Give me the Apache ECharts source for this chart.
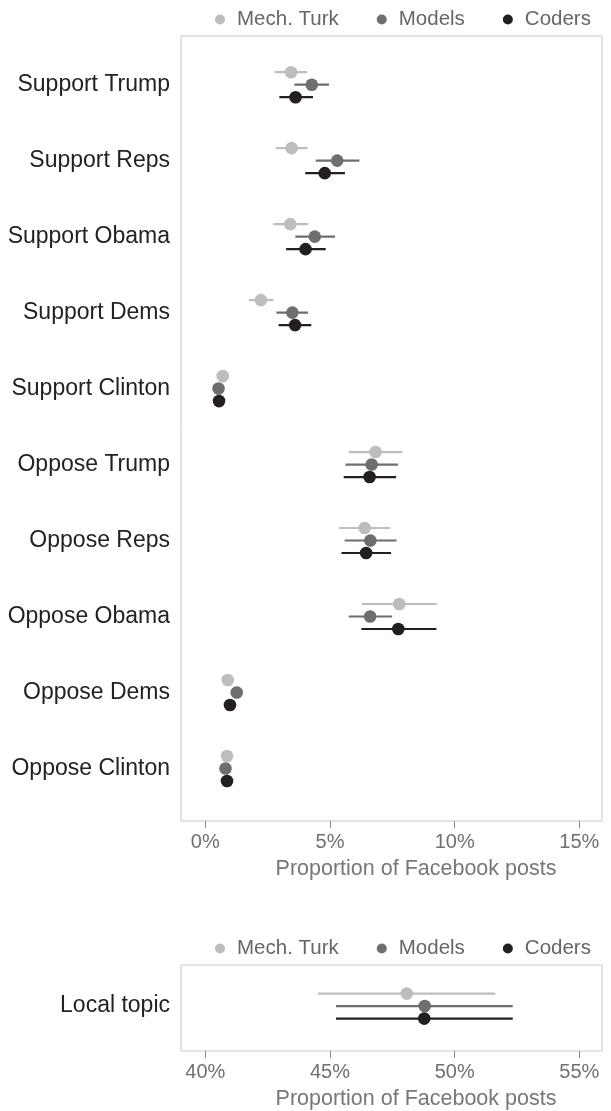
<!DOCTYPE html>
<html>
<head>
<meta charset="utf-8">
<script src="https://cdn.jsdelivr.net/npm/echarts@6/dist/echarts.min.js"></script>
<style>
  html, body { margin: 0; padding: 0; background: #fff; }
  #chart { width: 611px; height: 1111px; }
</style>
</head>
<body>
<div id="chart"></div>
<script>
// categories, top to bottom
const categories = ['Support Trump', 'Support Reps', 'Support Obama', 'Support Dems', 'Support Clinton',
  'Oppose Trump', 'Oppose Reps', 'Oppose Obama', 'Oppose Dems', 'Oppose Clinton']

// proportion of posts (%), estimate with interval
const turkEst = [3.44, 3.46, 3.41, 2.23, 0.70, 6.83, 6.39, 7.78, 0.90, 0.87]
const turkLo = [2.78, 2.82, 2.73, 1.75, 0.55, 5.75, 5.37, 6.28, 0.75, 0.72]
const turkHi = [4.08, 4.10, 4.12, 2.73, 0.85, 7.90, 7.41, 9.29, 1.05, 1.02]
const modelEst = [4.27, 5.29, 4.39, 3.49, 0.53, 6.67, 6.62, 6.61, 1.26, 0.81]
const modelLo = [3.57, 4.43, 3.61, 2.85, 0.40, 5.62, 5.59, 5.75, 1.10, 0.68]
const modelHi = [4.96, 6.18, 5.20, 4.12, 0.66, 7.73, 7.67, 7.49, 1.42, 0.94]
const coderEst = [3.62, 4.79, 4.02, 3.60, 0.55, 6.59, 6.45, 7.74, 0.99, 0.87]
const coderLo = [2.97, 4.01, 3.24, 2.94, 0.42, 5.55, 5.46, 6.26, 0.85, 0.74]
const coderHi = [4.32, 5.60, 4.83, 4.25, 0.68, 7.65, 7.45, 9.27, 1.13, 1.00]

// local topic panel
const localCategories = ['Local topic']
const localTurk = [48.08, 44.52, 51.63]   // est, lo, hi
const localModel = [48.80, 45.24, 52.33]
const localCoder = [48.78, 45.24, 52.33]

const topTicks = [0, 5, 10, 15]
const bottomTicks = [40, 45, 50, 55]

const groups = ['Mech. Turk', 'Models', 'Coders']
const colors = ['#bdbdbd', '#6e6e6e', '#231f20']
const offsets = [-12.5, 0, 12.5]

function rows(est, lo, hi) {
  return est.map((v, i) => [i, v, lo[i], hi[i]])
}

function makeRender(offset, color) {
  return function (params, api) {
    const row = api.value(0)
    const c = api.coord([api.value(1), row])
    const lo = api.coord([api.value(2), row])
    const hi = api.coord([api.value(3), row])
    const y = c[1] + offset
    return {
      type: 'group',
      children: [
        { type: 'line', shape: { x1: lo[0], y1: y, x2: hi[0], y2: y }, style: { stroke: color, lineWidth: 2.2 } },
        { type: 'circle', shape: { cx: c[0], cy: y, r: 6.3 }, style: { fill: color } }
      ]
    }
  }
}

const topData = [rows(turkEst, turkLo, turkHi), rows(modelEst, modelLo, modelHi), rows(coderEst, coderLo, coderHi)]
const bottomData = [[[0].concat(localTurk)], [[0].concat(localModel)], [[0].concat(localCoder)]]

const series = []
groups.forEach((g, k) => {
  series.push({
    name: g, type: 'custom', xAxisIndex: 0, yAxisIndex: 0,
    itemStyle: { color: colors[k] },
    encode: { x: [1, 2, 3], y: 0 },
    renderItem: makeRender(offsets[k], colors[k]),
    data: topData[k]
  })
})
groups.forEach((g, k) => {
  series.push({
    name: g, type: 'custom', xAxisIndex: 1, yAxisIndex: 1,
    itemStyle: { color: colors[k] },
    encode: { x: [1, 2, 3], y: 0 },
    renderItem: makeRender(offsets[k], colors[k]),
    data: bottomData[k]
  })
})

const fontFamily = '"Liberation Sans", Arial, sans-serif'

function legend(top) {
  return {
    data: groups, top: top, left: 215, padding: 0, itemGap: 38,
    icon: 'circle', itemWidth: 24, itemHeight: 10,
    selectedMode: false,
    textStyle: { color: '#666', fontSize: 20.5, fontFamily: fontFamily }
  }
}

function xAxis(idx, min, max, ticks) {
  return {
    type: 'value', gridIndex: idx, min: min, max: max,
    name: 'Proportion of Facebook posts', nameLocation: 'middle', nameGap: 37,
    nameTextStyle: { color: '#777', fontSize: 21.5, fontFamily: fontFamily, padding: [0, 0, 0, 49] },
    axisLine: { show: false, onZero: false },
    axisTick: { show: true, length: 7, lineStyle: { color: '#888' }, customValues: ticks },
    axisLabel: { color: '#707070', fontSize: 20, fontFamily: fontFamily, margin: 11, customValues: ticks, formatter: v => v + '%' },
    splitLine: { show: false }
  }
}

function yAxis(idx, min, max, cats) {
  return {
    type: 'value', gridIndex: idx, inverse: true, min: min, max: max,
    axisLine: { show: false, onZero: false }, axisTick: { show: false }, splitLine: { show: false },
    axisLabel: {
      color: '#222', fontSize: 23, fontFamily: fontFamily, margin: 11,
      customValues: cats.map((c, i) => i),
      formatter: v => cats[Math.round(v)]
    }
  }
}

const chart = echarts.init(document.getElementById('chart'))
chart.setOption({
  animation: false,
  legend: [legend(9), legend(938)],
  grid: [
    { left: 181, top: 36, width: 421, height: 785, show: true, borderColor: '#c8c8c8', borderWidth: 1 },
    { left: 181, top: 965, width: 421, height: 87, show: true, borderColor: '#c8c8c8', borderWidth: 1 }
  ],
  xAxis: [xAxis(0, -0.975, 15.91, topTicks), xAxis(1, 39.025, 55.91, bottomTicks)],
  yAxis: [yAxis(0, -0.641, 9.692, categories), yAxis(1, -0.545, 0.596, localCategories)],
  series: series
})
</script>
</body>
</html>
